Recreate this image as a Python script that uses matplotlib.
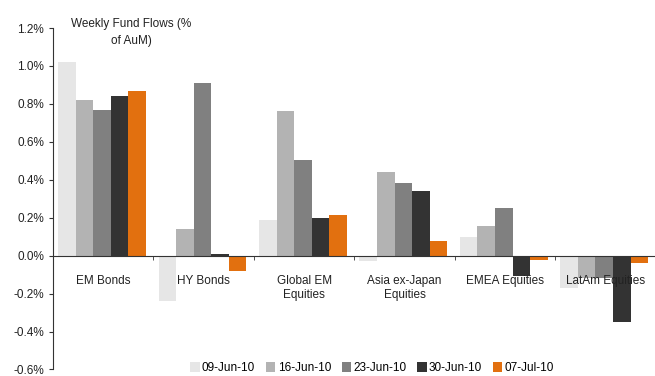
import numpy as np
import matplotlib.pyplot as plt

plt.rcParams['font.family'] = ['Liberation Sans', 'DejaVu Sans']

# data (% of AuM)
categories = ["EM Bonds", "HY Bonds", "Global EM\nEquities", "Asia ex-Japan\nEquities",
              "EMEA Equities", "LatAm Equities"]
weeks = ["09-Jun-10", "16-Jun-10", "23-Jun-10", "30-Jun-10", "07-Jul-10"]
jun09 = [1.02, -0.24, 0.19, -0.03, 0.10, -0.17]
jun16 = [0.82, 0.14, 0.76, 0.44, 0.155, -0.12]
jun23 = [0.77, 0.91, 0.505, 0.385, 0.25, -0.12]
jun30 = [0.84, 0.01, 0.20, 0.34, -0.105, -0.35]
jul07 = [0.87, -0.08, 0.215, 0.075, -0.025, -0.04]
colors = ["#e6e6e6", "#b3b3b3", "#808080", "#333333", "#e2700f"]

series = [jun09, jun16, jun23, jun30, jul07]

fig = plt.figure(figsize=(6.55, 3.76), dpi=100)
ax = fig.add_axes([0.081, 0.0173, 0.92, 0.9082])

x = np.arange(len(categories))
w = 0.175
for i, (vals, c, lab) in enumerate(zip(series, colors, weeks)):
    ax.bar(x - 0.5 + 0.05 + w * (i + 0.5), vals, w, color=c, label=lab)

ax.set_xlim(-0.5, len(categories) - 0.5)
ax.set_ylim(-0.6, 1.2)
ax.set_yticks(np.arange(-0.6, 1.21, 0.2))
ax.set_yticklabels(["%.1f%%" % v for v in np.arange(-0.6, 1.21, 0.2)], fontsize=8.5, color="#222222")

ax.spines['top'].set_visible(False)
ax.spines['right'].set_visible(False)
ax.spines['bottom'].set_position(('data', 0))
ax.spines['left'].set_color("#333333")
ax.spines['bottom'].set_color("#333333")

ax.set_xticks(x)
ax.set_xticklabels(categories, fontsize=8.5, color="#222222", va="top")
ax.tick_params(axis='x', which='major', length=0, pad=14)
ax.set_xticks(np.arange(-0.5, len(categories), 1), minor=True)
ax.tick_params(axis='x', which='minor', length=3, direction='out', color="#333333")
ax.tick_params(axis='y', length=3, direction='out', color="#333333")

# title sits inside the plot, top left
fig.text(0.2, 0.913, "Weekly Fund Flows (%\nof AuM)", ha="center", va="center",
         fontsize=8.5, color="#222222", linespacing=1.6)

fig.legend(loc="center", bbox_to_anchor=(0.568, 0.021), ncol=5, frameon=False,
           fontsize=8.5, handlelength=0.8, handleheight=0.8, handletextpad=0.2,
           columnspacing=0.9)

fig.savefig("out.png", dpi=100)
